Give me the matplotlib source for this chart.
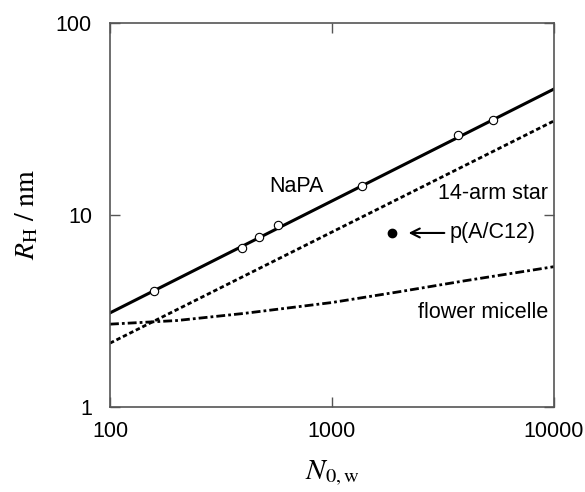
import numpy as np
import matplotlib.pyplot as plt
import matplotlib

matplotlib.rcParams['font.family'] = ['Liberation Sans', 'DejaVu Sans']
matplotlib.rcParams['mathtext.fontset'] = 'stix'

# NaPA fit line and data points
napa_x = [100, 10000]
napa_y = [3.09, 45.3]
pts_x = [158, 393, 470, 571, 1365, 3700, 5310]
pts_y = [4.02, 6.73, 7.68, 8.87, 14.2, 26.1, 31.3]

# 14-arm star
star_x = [100, 10000]
star_y = [2.15, 30.9]

# flower micelle
flower_x = [100, 200, 400, 1000, 2000, 4000, 10000]
flower_y = [2.70, 2.82, 3.07, 3.50, 3.98, 4.55, 5.38]

# p(A/C12)
pac_x = [1864]
pac_y = [8.06]

fig = plt.figure(figsize=(5.85, 4.92), dpi=100)
ax = fig.add_axes([0.188, 0.1728, 0.759, 0.7805])

ax.plot(napa_x, napa_y, '-', color='k', lw=2.2)
ax.plot(pts_x, pts_y, 'o', mfc='white', mec='k', mew=0.8, ms=6)
ax.plot(star_x, star_y, color='k', lw=2, linestyle=(0, (1.6, 1.0)))
ax.plot(flower_x, flower_y, color='k', lw=2, linestyle=(0, (3.2, 1.1, 1.0, 1.1)))
ax.plot(pac_x, pac_y, 'o', color='k', ms=6)

ax.set_xscale('log')
ax.set_yscale('log')
ax.set_xlim(100, 10000)
ax.set_ylim(1, 100)
ax.set_xticks([100, 1000, 10000])
ax.set_xticklabels(['100', '1000', '10000'])
ax.set_yticks([1, 10, 100])
ax.set_yticklabels(['1', '10', '100'])
ax.minorticks_off()
ax.tick_params(which='both', direction='in', top=True, right=True, length=7,
               width=1, color='#555555', labelsize=15.5, pad=10)
ax.tick_params(axis='y', pad=13)
for s in ax.spines.values():
    s.set_color('#555555')
    s.set_linewidth(1.2)

ax.annotate('', xy=(2150, 8.06), xytext=(3300, 8.06),
            arrowprops=dict(arrowstyle='->', color='k', lw=1.5, mutation_scale=16))
ax.text(3400, 8.06, 'p(A/C12)', fontsize=15.5, va='center', ha='left')
ax.text(692, 14.0, 'NaPA', fontsize=15.5, va='center', ha='center')
ax.text(9400, 12.9, '14-arm star', fontsize=15.5, va='center', ha='right')
ax.text(9400, 3.09, 'flower micelle', fontsize=15.5, va='center', ha='right')

ax.set_xlabel(r'$N_{\mathrm{0,w}}$', fontsize=21, labelpad=12)
ax.set_ylabel(r'$R_{\mathrm{H}}\ /\ \mathrm{nm}$', fontsize=20, labelpad=11)

plt.savefig('out.png', dpi=100)
